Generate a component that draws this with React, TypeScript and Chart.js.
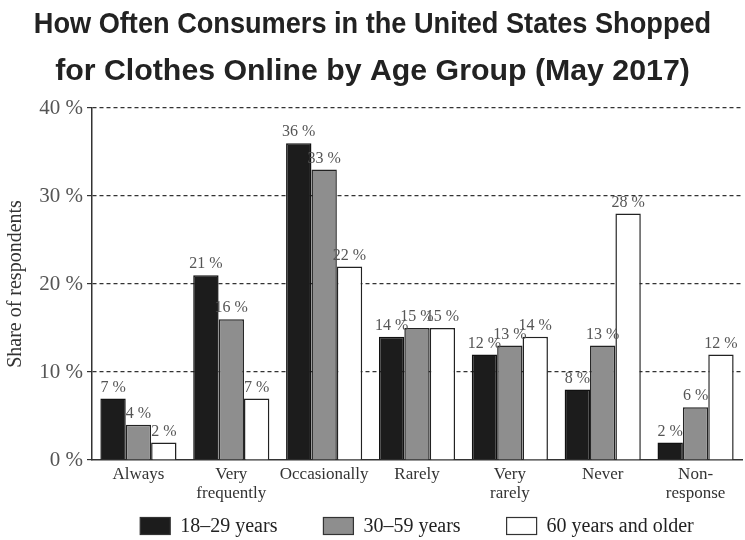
import React, { useEffect, useRef } from "react";
import { Chart, registerables } from "chart.js";

Chart.register(...registerables);

const categories: (string | string[])[] = [
  "Always",
  ["Very", "frequently"],
  "Occasionally",
  "Rarely",
  ["Very", "rarely"],
  "Never",
  ["Non-", "response"],
];
const age18to29 = [7, 21, 36, 14, 12, 8, 2];
const age30to59 = [4, 16, 33, 15, 13, 13, 6];
const age60plus = [2, 7, 22, 15, 14, 28, 12];
const yTicks = [0, 10, 20, 30, 40];
const titleLines = [
  "How Often Consumers in the United States Shopped",
  "for Clothes Online by Age Group (May 2017)",
];

const SERIF = "'Liberation Serif', 'DejaVu Serif', serif";
const SANS = "'Liberation Sans', Arial, sans-serif";

const valueLabels = {
  id: "valueLabels",
  afterDatasetsDraw(chart: any) {
    const ctx = chart.ctx;
    ctx.save();
    ctx.font = `16px ${SERIF}`;
    ctx.fillStyle = "#555";
    ctx.textAlign = "center";
    ctx.textBaseline = "bottom";
    chart.data.datasets.forEach((ds: any, i: number) => {
      const meta = chart.getDatasetMeta(i);
      meta.data.forEach((el: any, j: number) => {
        ctx.fillText(`${ds.data[j]} %`, el.x, el.y - 3);
      });
    });
    ctx.restore();
  },
};

const titleAndLegend = {
  id: "titleAndLegend",
  afterDraw(chart: any) {
    const ctx = chart.ctx;
    const cx = chart.width / 2;
    ctx.save();
    ctx.fillStyle = "#222";
    ctx.textAlign = "center";
    ctx.textBaseline = "alphabetic";
    ctx.font = `bold 30px ${SANS}`;
    // first line is typeset condensed in the reference
    ctx.save();
    ctx.translate(cx, 33);
    ctx.scale(0.905, 1);
    ctx.fillText(titleLines[0], 0, 0);
    ctx.restore();
    ctx.font = `bold 30.3px ${SANS}`;
    ctx.fillText(titleLines[1], cx, 80);

    // legend, centred under the plot area
    ctx.font = `20px ${SERIF}`;
    ctx.textAlign = "left";
    ctx.textBaseline = "middle";
    const boxW = 30;
    const boxH = 17;
    const gapText = 10;
    const gapItem = 46;
    const ds = chart.data.datasets;
    const widths = ds.map((d: any) => boxW + gapText + ctx.measureText(d.label).width);
    const total = widths.reduce((a: number, b: number) => a + b, 0) + gapItem * (ds.length - 1);
    const area = chart.chartArea;
    let x = (area.left + area.right) / 2 - total / 2;
    const y = 526;
    ds.forEach((d: any, i: number) => {
      ctx.fillStyle = d.backgroundColor;
      ctx.fillRect(x, y - boxH / 2, boxW, boxH);
      ctx.strokeStyle = "#333";
      ctx.lineWidth = 1.2;
      ctx.strokeRect(x, y - boxH / 2, boxW, boxH);
      ctx.fillStyle = "#222";
      ctx.fillText(d.label, x + boxW + gapText, y + 1);
      x += widths[i] + gapItem;
    });
    ctx.restore();
  },
};

export default function App() {
  const ref = useRef<HTMLCanvasElement>(null);
  useEffect(() => {
    document.body.style.margin = "0";
    const chart = new Chart(ref.current!, {
      type: "bar",
      data: {
        labels: categories,
        datasets: [
          {
            label: "18–29 years",
            data: age18to29,
            backgroundColor: "#1c1c1c",
            borderColor: "#111",
            borderWidth: 1.5,
          },
          {
            label: "30–59 years",
            data: age30to59,
            backgroundColor: "#8e8e8e",
            borderColor: "#222",
            borderWidth: 1.5,
          },
          {
            label: "60 years and older",
            data: age60plus,
            backgroundColor: "#ffffff",
            borderColor: "#222",
            borderWidth: 1.5,
          },
        ],
      },
      options: {
        responsive: false,
        animation: false,
        layout: { padding: { left: 0, right: 3, top: 108, bottom: 30 } },
        datasets: {
          bar: { categoryPercentage: 0.82, barPercentage: 1 },
        },
        plugins: {
          title: { display: false },
          legend: { display: false },
          tooltip: { enabled: false },
        },
        scales: {
          x: {
            afterFit: (s: any) => {
              s.height = 50;
            },
            grid: { display: false, drawTicks: false },
            border: { display: true, color: "#333", width: 1.5 },
            ticks: {
              color: "#333",
              font: { family: SERIF, size: 17, lineHeight: 1.12 },
              padding: 5,
              maxRotation: 0,
              autoSkip: false,
            },
          },
          y: {
            min: 0,
            max: 40,
            afterFit: (s: any) => {
              s.width = 92;
            },
            afterBuildTicks: (s: any) => {
              s.ticks = yTicks.map((v) => ({ value: v }));
            },
            grid: {
              color: (c: any) => (c.tick && c.tick.value === 0 ? "rgba(0,0,0,0)" : "#333"),
              lineWidth: 1.2,
              drawTicks: true,
              tickLength: 5,
              tickColor: "#333",
            },
            border: { display: true, color: "#333", width: 1.5, dash: [4, 3] },
            ticks: {
              color: "#555",
              font: { family: SERIF, size: 21 },
              padding: 4,
              callback: (v: any) => `${v} %`,
            },
            title: {
              display: true,
              text: "Share of respondents",
              color: "#333",
              font: { family: SERIF, size: 20 },
              padding: { top: 4, bottom: 0 },
            },
          },
        },
      },
      plugins: [valueLabels, titleAndLegend],
    });
    return () => chart.destroy();
  }, []);
  return <canvas ref={ref} width={745} height={540} style={{ display: "block" }} />;
}
